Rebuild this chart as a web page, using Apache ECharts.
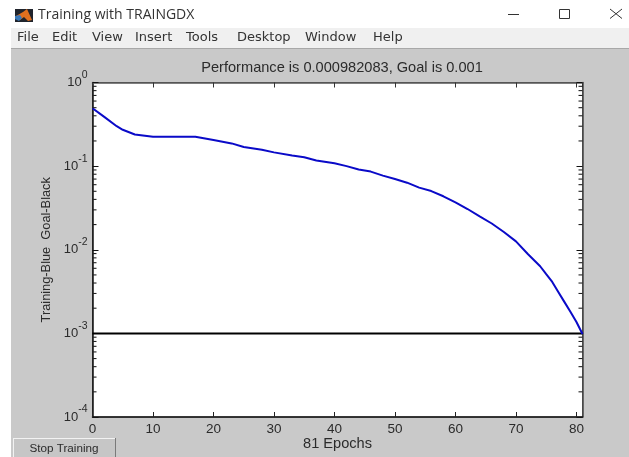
<!DOCTYPE html>
<html><head><meta charset="utf-8">
<style>html,body{margin:0;padding:0;background:#fff}#c{width:629px;height:457px}</style>
<script src="https://cdn.jsdelivr.net/npm/echarts@6/dist/echarts.min.js"></script>
</head><body><div id="c"></div>
<script>
const windowTitle = 'Training with TRAINGDX';
const chartTitle = 'Performance is 0.000982083, Goal is 0.001';
const xName = '81 Epochs';
const yName = 'Training-Blue  Goal-Black';
const buttonLabel = 'Stop Training';
const menuLabels = ['File','Edit','View','Insert','Tools','Desktop','Window','Help'];
const menuX = [17,52,92,135,186,237,305,373];
const epochs = [0,2,4,5,7,10,17,20,23,25,28,30,33,35,37,40,42,44,46,48,50,52,54,56,58,60,62,64,66,68,70,72,74,75,76,77,78,79,80,81];
const training = [0.493,0.385,0.30,0.272,0.239,0.225,0.225,0.205,0.187,0.169,0.157,0.146,0.134,0.128,0.117,0.108,0.1,0.091,0.086,0.077,0.070,0.0634,0.0553,0.0503,0.0436,0.0369,0.0307,0.0251,0.0206,0.0163,0.0126,0.00883,0.00635,0.0051,0.00412,0.00313,0.00238,0.00181,0.00137,0.000982];
const goalEpochs = [0,81];
const goal = [0.001,0.001];
const minorTicks = [];
[1e-4,1e-3,1e-2,1e-1].forEach(d=>[2,3,4,5,6,7,8,9].forEach(m=>minorTicks.push(m*d)));

const FONT='"Liberation Sans",Arial,sans-serif', UI='"DejaVu Sans",sans-serif', INK='#2b2b2b';
const expLabel = v => '{b|10}{s|' + Math.round(Math.log10(v)) + '}';
const line=(x1,y1,x2,y2,stroke,lw)=>({type:'line',silent:true,z:3,shape:{x1,y1,x2,y2},style:{stroke,lineWidth:lw||1}});
const rect=(x,y,width,height,fill,z)=>({type:'rect',silent:true,z:z||-10,shape:{x,y,width,height},style:{fill}});
const txt=(text,x,y,font,fill)=>({type:'text',silent:true,z:3,x,y,style:{text,font,fill:fill||'#333',textVerticalAlign:'middle'}});

const graphic=[
 rect(11,48,618,409,'#c9c9c9'),
 rect(11,28,618,20,'#f0f0f0'),
 line(11,48.5,629,48.5,'#a8a8a8'),
 rect(15,9,18,13,'#20242c',1),
 {type:'polygon',silent:true,z:2,shape:{points:[[16,16],[23,12],[27,9],[32,20],[28,21],[24,17],[20,20]]},style:{fill:'#e0701f'}},
 {type:'polygon',silent:true,z:2,shape:{points:[[15,16],[20,15],[22,18],[19,21],[15,19]]},style:{fill:'#3a78b8'}},
 txt(windowTitle,38,15,'14px "Open Sans",sans-serif','#333'),
 ...menuLabels.map((m,i)=>txt(m,menuX[i],38,'13px '+UI,'#333')),
 line(508,14.5,519,14.5,'#333'),
 {type:'rect',silent:true,z:3,shape:{x:559.5,y:9.5,width:10,height:9},style:{fill:'none',stroke:'#333',lineWidth:1}},
 line(610,9,622,18.5,'#333'),line(622,9,610,18.5,'#333'),
 rect(13,438,102,19,'#c6c6c6',1),
 line(13,438.5,116,438.5,'#f2f2f2'),line(13.5,438,13.5,457,'#f2f2f2'),line(115.5,438,115.5,457,'#7a7a7a'),
 {type:'text',silent:true,z:3,x:64,y:449,style:{text:buttonLabel,font:'11.7px '+FONT,fill:INK,textAlign:'center',textVerticalAlign:'middle'}}
];

const tickStyle=c=>({show:true,inside:true,length:5,lineStyle:{color:c,width:1}});
const minorBase={type:'scatter',silent:true,z:5,clip:false,symbol:'rect',symbolSize:[4,1.1],itemStyle:{color:'#222',opacity:1}};
const chart=echarts.init(document.getElementById('c'),null,{renderer:'canvas'});
chart.setOption({
 animation:false,backgroundColor:'#fff',graphic:{elements:graphic},
 title:{text:chartTitle,left:337,top:55,textAlign:'center',textStyle:{fontFamily:FONT,fontSize:14.6,fontWeight:'normal',color:INK}},
 grid:{left:92.5,right:46.5,top:82.5,bottom:40,outerBoundsMode:'none',show:true,backgroundColor:'#fff',borderColor:'#555',borderWidth:1},
 xAxis:[
  {type:'value',min:0,max:81,interval:10,position:'bottom',name:xName,nameLocation:'middle',nameGap:19,nameMoveOverlap:false,
   nameTextStyle:{fontFamily:FONT,fontSize:14.6,color:INK},
   axisLine:{show:true,onZero:false,lineStyle:{color:'#111',width:1.5}},axisTick:tickStyle('#222'),splitLine:{show:false},
   axisLabel:{show:true,margin:5,showMaxLabel:false,fontFamily:FONT,fontSize:13.5,color:INK}},
  {type:'value',min:0,max:81,interval:10,position:'top',
   axisLine:{show:true,onZero:false,lineStyle:{color:'#555',width:1.5}},axisTick:tickStyle('#333'),splitLine:{show:false},axisLabel:{show:false}}
 ],
 yAxis:[
  {type:'log',logBase:10,min:1e-4,max:1,position:'left',name:yName,nameLocation:'middle',nameGap:39,nameRotate:90,
   nameTextStyle:{fontFamily:FONT,fontSize:12.8,color:INK},
   axisLine:{show:true,onZero:false,lineStyle:{color:'#111',width:1.5}},axisTick:{...tickStyle('#111'),length:6},splitLine:{show:false},minorTick:{show:false},
   axisLabel:{show:true,margin:5,formatter:expLabel,rich:{
     b:{fontFamily:FONT,fontSize:13,color:INK,verticalAlign:'middle'},
     s:{fontFamily:FONT,fontSize:10.5,color:INK,verticalAlign:'bottom',padding:[0,0,15,0]}}}},
  {type:'log',logBase:10,min:1e-4,max:1,position:'right',
   axisLine:{show:true,onZero:false,lineStyle:{color:'#444',width:1.5}},axisTick:{...tickStyle('#111'),length:6},splitLine:{show:false},minorTick:{show:false},axisLabel:{show:false}}
 ],
 series:[
  {...minorBase,name:'minorLeft',symbolOffset:[2,0],data:minorTicks.map(v=>[goalEpochs[0],v])},
  {...minorBase,name:'minorRight',symbolOffset:[-2,0],data:minorTicks.map(v=>[goalEpochs[1],v])},
  {type:'line',name:'Goal',data:goalEpochs.map((e,i)=>[e,goal[i]]),symbol:'none',z:3,lineStyle:{color:'#000',width:2}},
  {type:'line',name:'Training',data:epochs.map((e,i)=>[e,training[i]]),symbol:'none',z:4,clip:false,lineStyle:{color:'#0a0ac8',width:2}}
 ]
});
</script></body></html>
